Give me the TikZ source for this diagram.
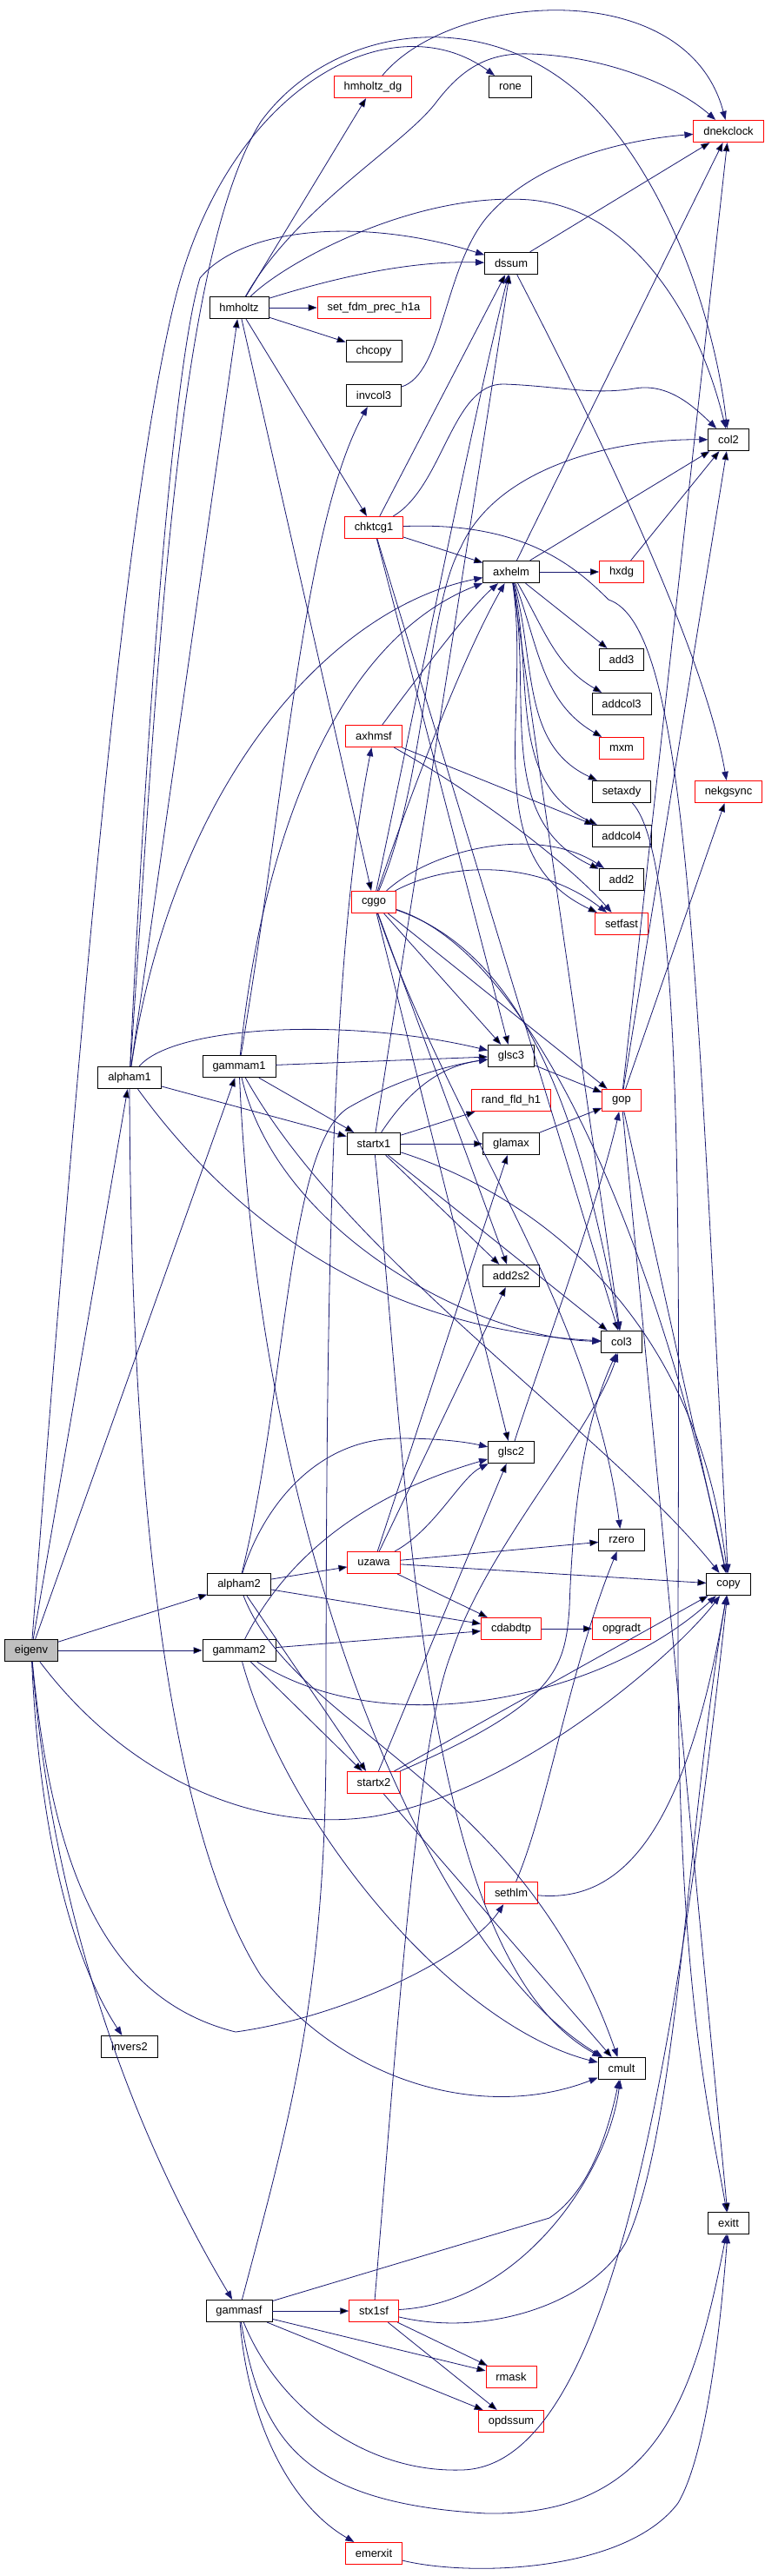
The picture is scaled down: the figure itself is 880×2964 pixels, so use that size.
\documentclass[tikz,border=0pt]{standalone}
\usepackage{fontspec}
\setmainfont{Liberation Sans}
\usetikzlibrary{arrows.meta}
\definecolor{edgeblue}{HTML}{191970}
\definecolor{boxred}{HTML}{FF0000}
\definecolor{rootgray}{HTML}{BFBFBF}
\begin{document}
\begin{tikzpicture}[x=1pt,y=-1pt,
  fn/.style={draw=black,fill=white,line width=0.8pt,minimum height=25.5pt,inner xsep=11.5pt,inner ysep=0pt,font=\fontsize{12.9}{15}\selectfont},
  fnred/.style={fn,draw=boxred},
  fnroot/.style={fn,fill=rootgray},
  call/.style={draw=edgeblue,line width=0.8pt,-{Triangle[length=10pt,width=7.5pt]}}]
  \useasboundingbox[fill=white] (0,0) rectangle (880,2964);
  % functions, one column after another
  \node[fnroot] (eigenv) at (36,1899) {eigenv};
  \node[fn] (alpham1) at (149,1240) {alpham1};
  \node[fn] (invers2) at (149,2355) {invers2};
  \node[fn] (hmholtz) at (275,354) {hmholtz};
  \node[fn] (gammam1) at (275,1227) {gammam1};
  \node[fn] (alpham2) at (275,1823) {alpham2};
  \node[fn] (gammam2) at (275,1899) {gammam2};
  \node[fn] (gammasf) at (275,2659) {gammasf};
  \node[fnred] (hmholtzdg) at (429,100) {hmholtz\_dg};
  \node[fnred] (setfdm) at (430,354) {set\_fdm\_prec\_h1a};
  \node[fn] (chcopy) at (430,404) {chcopy};
  \node[fn] (invcol3) at (430,455) {invcol3};
  \node[fnred] (chktcg1) at (430,607) {chktcg1};
  \node[fnred] (axhmsf) at (430,847) {axhmsf};
  \node[fnred] (cggo) at (430,1038) {cggo};
  \node[fn] (startx1) at (430,1316) {startx1};
  \node[fnred] (uzawa) at (430,1798) {uzawa};
  \node[fnred] (startx2) at (430,2051) {startx2};
  \node[fnred] (stx1sf) at (430,2659) {stx1sf};
  \node[fnred] (emerxit) at (430,2938) {emerxit};
  \node[fn] (rone) at (587,100) {rone};
  \node[fn] (dssum) at (588,303) {dssum};
  \node[fn] (axhelm) at (588,658) {axhelm};
  \node[fn] (glsc3) at (588,1215) {glsc3};
  \node[fnred] (randfld) at (588,1266) {rand\_fld\_h1};
  \node[fn] (glamax) at (588,1316) {glamax};
  \node[fn] (add2s2) at (588,1468) {add2s2};
  \node[fn] (glsc2) at (588,1671) {glsc2};
  \node[fnred] (cdabdtp) at (588,1874) {cdabdtp};
  \node[fnred] (sethlm) at (588,2178) {sethlm};
  \node[fnred] (rmask) at (588,2735) {rmask};
  \node[fnred] (opdssum) at (588,2786) {opdssum};
  \node[fnred] (hxdg) at (715,658) {hxdg};
  \node[fn] (add3) at (715,759) {add3};
  \node[fn] (addcol3) at (715,810) {addcol3};
  \node[fnred] (mxm) at (715,861) {mxm};
  \node[fn] (setaxdy) at (715,911) {setaxdy};
  \node[fn] (addcol4) at (715,962) {addcol4};
  \node[fn] (add2) at (715,1012) {add2};
  \node[fnred] (setfast) at (715,1063) {setfast};
  \node[fnred] (gop) at (715,1266) {gop};
  \node[fn] (col3) at (715,1544) {col3};
  \node[fn] (rzero) at (715,1772) {rzero};
  \node[fnred] (opgradt) at (715,1874) {opgradt};
  \node[fn] (cmult) at (715,2380) {cmult};
  \node[fnred] (dnekclock) at (838,151) {dnekclock};
  \node[fn] (col2) at (838,506) {col2};
  \node[fnred] (nekgsync) at (838,911) {nekgsync};
  \node[fn] (copy) at (838,1823) {copy};
  \node[fn] (exitt) at (838,2558) {exitt};
  % eigenv
  \draw[call] (eigenv) edge (alpham1) edge (gammam1) edge (alpham2) edge (gammam2);
  \draw[call] (eigenv) .. controls (45,2100) and (80,2250) .. (invers2);
  \draw[call] (eigenv) .. controls (60,2200) and (150,2450) .. (gammasf);
  \draw[call] (eigenv) .. controls (150,2050) and (300,2110) .. (430,2090) .. controls (600,2060) and (780,1900) .. (copy);
  \draw[call] (eigenv) .. controls (60,2150) and (120,2300) .. (271,2338) .. controls (400,2320) and (540,2250) .. (sethlm);
  \draw[call] (eigenv) .. controls (90,1200) and (140,600) .. (200,350) .. controls (260,100) and (450,0) .. (rone);
  % alpham1
  \draw[call] (alpham1) edge (hmholtz) edge (startx1);
  \draw[call] (alpham1) .. controls (180,800) and (200,300) .. (300,140) .. controls (380,30) and (560,0) .. (680,120) .. controls (760,200) and (820,350) .. (col2);
  \draw[call] (alpham1) .. controls (170,800) and (200,420) .. (230,320) .. controls (280,260) and (420,250) .. (dssum);
  \draw[call] (alpham1) .. controls (200,1180) and (400,1170) .. (glsc3);
  \draw[call] (alpham1) .. controls (280,1420) and (450,1530) .. (col3);
  \draw[call] (alpham1) .. controls (200,900) and (380,700) .. (axhelm);
  \draw[call] (alpham1) .. controls (150,1700) and (190,2100) .. (300,2273) .. controls (400,2400) and (560,2440) .. (cmult);
  % gammam1
  \draw[call] (gammam1) edge (glsc3) edge (startx1);
  \draw[call] (gammam1) .. controls (330,900) and (350,600) .. (invcol3);
  \draw[call] (gammam1) .. controls (300,980) and (380,740) .. (axhelm);
  \draw[call] (gammam1) .. controls (320,1420) and (550,1540) .. (col3);
  \draw[call] (gammam1) .. controls (300,1800) and (500,2250) .. (cmult);
  \draw[call] (gammam1) .. controls (400,1450) and (700,1650) .. (copy);
  % hmholtz
  \draw[call] (hmholtz) edge (hmholtzdg) edge (setfdm) edge (chcopy) edge (chktcg1) edge (cggo);
  \draw[call] (hmholtz) .. controls (400,315) and (480,300) .. (dssum);
  \draw[call] (hmholtz) .. controls (340,240) and (460,170) .. (500,120) .. controls (530,80) and (560,60) .. (610,62) .. controls (700,65) and (780,100) .. (dnekclock);
  \draw[call] (hmholtz) .. controls (330,300) and (480,220) .. (610,230) .. controls (720,240) and (800,350) .. (col2);
  \draw[call] (hmholtzdg) .. controls (520,-10) and (790,-30) .. (dnekclock);
  \draw[call] (invcol3) .. controls (510,430) and (510,310) .. (560,250) .. controls (620,180) and (730,160) .. (dnekclock);
  \draw[call] (dssum) edge (dnekclock);
  \draw[call] (dssum) .. controls (690,500) and (810,750) .. (nekgsync);
  % chktcg1
  \draw[call] (chktcg1) edge (axhelm) edge (dssum) edge (glsc3) edge (col3);
  \draw[call] (chktcg1) .. controls (510,560) and (520,440) .. (580,442) .. controls (640,444) and (680,455) .. (730,447) .. controls (770,440) and (800,470) .. (col2);
  \draw[call] (chktcg1) .. controls (600,600) and (660,650) .. (700,690) .. controls (790,720) and (800,1100) .. (copy);
  % axhelm
  \draw[call] (axhelm) edge (dnekclock) edge (col2) edge (hxdg) edge (add3) edge (col3);
  \draw[call] (axhelm) edge[out=-60,in=150] (addcol3) edge[out=-70,in=150] (mxm) edge[out=-75,in=155] (setaxdy)
    edge[out=-78,in=155] (addcol4) edge[out=-80,in=155] (add2) edge[out=-82,in=155] (setfast);
  \draw[call] (hxdg) edge (col2);
  \draw[call] (axhmsf) edge (addcol4);
  \draw[call] (axhmsf) .. controls (480,780) and (540,700) .. (axhelm);
  \draw[call] (axhmsf) .. controls (560,920) and (660,1000) .. (setfast);
  \draw[call] (setaxdy) .. controls (790,990) and (780,1500) .. (780,1900) .. controls (780,2300) and (820,2450) .. (exitt);
  % cggo
  \draw[call] (cggo) edge (glsc3) edge (add2s2) edge (gop) edge (glsc2);
  \draw[call] (cggo) .. controls (470,920) and (530,760) .. (axhelm);
  \draw[call] (cggo) .. controls (480,800) and (540,500) .. (dssum);
  \draw[call] (cggo) .. controls (490,900) and (490,700) .. (530,630) .. controls (570,540) and (700,505) .. (col2);
  \draw[call] (cggo) .. controls (500,975) and (620,950) .. (add2);
  \draw[call] (cggo) .. controls (520,990) and (620,990) .. (setfast);
  \draw[call] (cggo) .. controls (610,1100) and (670,1300) .. (col3);
  \draw[call] (cggo) .. controls (520,1300) and (680,1500) .. (rzero);
  \draw[call] (cggo) .. controls (620,1100) and (760,1450) .. (copy);
  % reductions
  \draw[call] (glsc3) edge (gop);
  \draw[call] (glamax) edge (gop);
  \draw[call] (glsc2) .. controls (610,1600) and (690,1380) .. (gop);
  \draw[call] (gop) edge (nekgsync) edge (col2) edge (dnekclock) edge (copy) edge (exitt);
  % startx1
  \draw[call] (startx1) edge (randfld) edge (glamax) edge (add2s2) edge (col3) edge (dssum);
  \draw[call] (startx1) .. controls (480,1240) and (520,1225) .. (glsc3);
  \draw[call] (startx1) .. controls (600,1370) and (800,1500) .. (copy);
  \draw[call] (startx1) .. controls (470,1700) and (480,2250) .. (cmult);
  % uzawa
  \draw[call] (uzawa) edge (rzero) edge (copy) edge (cdabdtp) edge (add2s2) edge (glamax);
  \draw[call] (uzawa) .. controls (500,1760) and (530,1700) .. (glsc2);
  \draw[call] (cdabdtp) edge (opgradt);
  % alpham2 and gammam2
  \draw[call] (alpham2) edge (uzawa) edge (cdabdtp) edge (startx2);
  \draw[call] (alpham2) .. controls (330,1600) and (330,1320) .. (400,1275) .. controls (460,1240) and (520,1225) .. (glsc3);
  \draw[call] (alpham2) .. controls (300,1740) and (360,1655) .. (460,1655) .. controls (510,1655) and (540,1660) .. (glsc2);
  \draw[call] (alpham2) .. controls (340,1990) and (600,2050) .. (cmult);
  \draw[call] (gammam2) edge (cdabdtp) edge (startx2);
  \draw[call] (gammam2) .. controls (330,1790) and (420,1720) .. (glsc2);
  \draw[call] (gammam2) .. controls (330,2100) and (520,2330) .. (cmult);
  \draw[call] (gammam2) .. controls (450,2010) and (700,1950) .. (copy);
  % startx2 and sethlm
  \draw[call] (startx2) edge (glsc2) edge (cmult) edge (copy);
  \draw[call] (startx2) .. controls (640,1960) and (650,1920) .. (655,1850) .. controls (660,1700) and (680,1620) .. (col3);
  \draw[call] (sethlm) .. controls (630,2080) and (655,1920) .. (rzero);
  \draw[call] (sethlm) .. controls (720,2190) and (790,2100) .. (copy);
  % gammasf
  \draw[call] (gammasf) edge (stx1sf) edge (rmask) edge (opdssum);
  \draw[call] (gammasf) .. controls (285,2780) and (330,2880) .. (emerxit);
  \draw[call] (gammasf) .. controls (300,2800) and (340,2880) .. (560,2892) .. controls (760,2895) and (800,2750) .. (exitt);
  \draw[call] (gammasf) .. controls (320,2770) and (420,2845) .. (530,2842) .. controls (690,2840) and (770,2450) .. (copy);
  \draw[call] (gammasf) -- (632,2552) .. controls (680,2520) and (700,2450) .. (cmult);
  \draw[call] (gammasf) .. controls (330,2450) and (375,2300) .. (375,2000) .. controls (375,1500) and (380,1100) .. (axhmsf);
  % stx1sf
  \draw[call] (stx1sf) edge (rmask) edge (opdssum);
  \draw[call] (stx1sf) .. controls (600,2650) and (700,2500) .. (cmult);
  \draw[call] (stx1sf) .. controls (560,2690) and (680,2650) .. (720,2580) .. controls (780,2450) and (790,2100) .. (copy);
  \draw[call] (stx1sf) .. controls (460,2300) and (480,2000) .. (520,1900) .. controls (560,1780) and (680,1650) .. (col3);
  \draw[call] (emerxit) .. controls (540,2965) and (720,2960) .. (780,2880) .. controls (815,2820) and (830,2660) .. (exitt);
\end{tikzpicture}
\end{document}
